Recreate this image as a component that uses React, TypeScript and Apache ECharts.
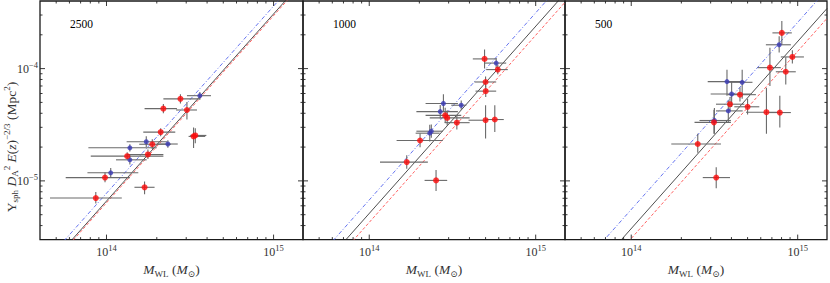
import React, { useEffect, useRef } from 'react';
import * as echarts from 'echarts';

// Units: M in 1e14 M_sun, Y in 1e-5 Mpc^2
const X_MIN = 0.4;
const X_MAX = 15;
const Y_MIN = 0.3;
const Y_MAX = 40;

const panelLabels = ['2500', '1000', '500'];
const xMajorTicks = [1, 10];
const xMinorTicks = [0.5, 0.6, 0.7, 0.8, 0.9, 2, 3, 4, 5, 6, 7, 8, 9];
const yMajorTicks = [1, 10];
const yMinorTicks = [0.4, 0.5, 0.6, 0.7, 0.8, 0.9, 2, 3, 4, 5, 6, 7, 8, 9, 20, 30];
const xTickText: Record<string, string> = { '1': '14', '10': '15' };
const yTickText: Record<string, string> = { '1': '−5', '10': '−4' };

// [M, Y, Mlo, Mhi, Ylo, Yhi]
const red2500 = [
  [2.77, 5.38, 2.19, 3.64, 4.9, 5.9],
  [2.19, 4.4, 1.69, 2.64, 4.0, 4.85],
  [3.03, 4.28, 2.61, 3.48, 3.52, 5.04],
  [2.11, 2.72, 1.66, 2.58, 2.5, 2.95],
  [3.32, 2.49, 3.1, 3.9, 1.96, 2.99],
  [3.4, 2.54, 3.17, 3.96, 2.16, 2.95],
  [1.88, 2.12, 1.57, 2.43, 1.92, 2.35],
  [1.33, 1.66, 0.805, 2.19, 1.55, 1.8],
  [1.77, 1.72, 1.32, 2.19, 1.57, 1.9],
  [0.98, 1.07, 0.57, 1.38, 0.97, 1.19],
  [1.69, 0.877, 1.47, 1.94, 0.76, 0.987],
  [0.863, 0.703, 0.459, 1.235, 0.629, 0.795],
];
const blue2500 = [
  [3.62, 5.74, 3.03, 4.22, 5.3, 6.2],
  [1.73, 2.23, 1.32, 2.3, 2.0, 2.5],
  [2.33, 2.13, 2.0, 2.67, 1.97, 2.3],
  [1.38, 1.97, 0.779, 2.0, 1.83, 2.12],
  [1.38, 1.54, 1.14, 1.74, 1.4, 1.7],
  [1.06, 1.18, 0.769, 1.55, 1.07, 1.3],
];
const red1000 = [
  [4.93, 12.2, 4.19, 5.79, 10.0, 14.8],
  [5.92, 9.8, 5.04, 6.8, 8.9, 10.8],
  [5.0, 7.6, 4.29, 5.79, 6.8, 8.5],
  [5.01, 6.3, 4.35, 5.79, 5.6, 7.1],
  [2.86, 3.83, 2.18, 3.57, 3.28, 4.48],
  [2.94, 3.64, 2.31, 4.01, 3.11, 4.26],
  [3.36, 3.3, 2.84, 4.01, 2.87, 3.79],
  [5.0, 3.47, 3.95, 5.14, 2.38, 4.72],
  [5.68, 3.52, 5.04, 6.43, 2.73, 4.72],
  [2.02, 2.29, 1.46, 2.77, 1.99, 2.64],
  [1.68, 1.47, 1.16, 2.25, 1.28, 1.69],
  [2.52, 1.01, 2.15, 2.94, 0.811, 1.25],
];
const blue1000 = [
  [5.79, 11.2, 4.93, 6.65, 10.1, 12.4],
  [2.79, 4.89, 2.18, 3.41, 4.1, 5.9],
  [3.57, 4.72, 3.11, 3.83, 4.3, 5.2],
  [2.67, 4.14, 1.92, 3.41, 3.6, 4.75],
  [2.36, 2.77, 1.92, 2.77, 2.42, 3.18],
  [2.31, 2.66, 1.9, 2.65, 2.24, 3.17],
];
const red500 = [
  [8.03, 20.8, 7.05, 9.22, 16.3, 26.6],
  [9.29, 12.7, 7.92, 10.9, 11.1, 14.6],
  [6.81, 10.2, 5.74, 7.92, 6.99, 15.3],
  [8.48, 9.37, 7.39, 9.74, 7.23, 12.6],
  [4.5, 5.86, 3.79, 5.61, 5.1, 6.8],
  [3.92, 4.82, 3.23, 4.78, 4.2, 5.6],
  [5.0, 4.57, 4.16, 5.88, 3.9, 5.4],
  [6.49, 4.09, 4.89, 7.74, 2.63, 6.76],
  [7.81, 4.06, 6.74, 9.1, 2.99, 5.74],
  [3.14, 3.32, 2.4, 3.97, 2.63, 4.29],
  [2.51, 2.13, 1.74, 3.46, 1.78, 2.63],
  [3.24, 1.07, 2.69, 3.92, 0.86, 1.32],
];
const blue500 = [
  [7.74, 16.3, 6.44, 9.1, 13.9, 19.4],
  [3.76, 7.66, 2.88, 4.78, 5.74, 9.75],
  [4.64, 7.55, 3.79, 5.35, 5.4, 9.75],
  [4.01, 5.94, 3.0, 5.26, 4.54, 7.7],
  [3.83, 4.2, 3.23, 4.67, 3.32, 5.21],
  [3.16, 3.45, 2.57, 3.97, 2.63, 4.46],
];

// Self-similar fits Y = A * M^slope (A = Y at M = 1e14)
const fitSlope = 5 / 3;
const fitBlack = [0.661, 0.513, 0.376];
const fitBlue = [0.776, 0.676, 0.556];
const fitRed = [0.638, 0.427, 0.307];

const FONT = '"Liberation Serif", "DejaVu Serif", serif';
const GRID_LEFT = [40, 303, 565];
const GRID_WIDTH = [263, 262, 263];
const GRID_TOP = 1;
const GRID_HEIGHT = 250;

const near = (v: number, t: number) => Math.abs(Math.log10(v) - Math.log10(t)) < 1e-6;

export default function App() {
  const ref = useRef<HTMLDivElement>(null);
  useEffect(() => {
    const chart = echarts.init(ref.current!, null, { renderer: 'svg' });
    const panels = [
      { red: red2500, blue: blue2500 },
      { red: red1000, blue: blue1000 },
      { red: red500, blue: blue500 },
    ];
    const grids: any[] = [];
    const xAxes: any[] = [];
    const yAxes: any[] = [];
    const series: any[] = [];
    const graphics: any[] = [];

    const tickData: any[] = [];
    xMinorTicks.forEach((v) => tickData.push([v, Y_MIN, 0]));
    xMajorTicks.forEach((v) => tickData.push([v, Y_MIN, 1]));
    yMinorTicks.forEach((v) => tickData.push([X_MIN, v, 2]));
    yMajorTicks.forEach((v) => tickData.push([X_MIN, v, 3]));

    const mk = (size: number, subSize: number, lh: number) => ({
      r: { fontFamily: FONT, fontSize: size, lineHeight: lh, color: '#333' },
      i: { fontFamily: FONT, fontSize: size, lineHeight: lh, fontStyle: 'italic', color: '#333' },
      sub: { fontFamily: FONT, fontSize: subSize, lineHeight: subSize + 1, verticalAlign: 'bottom', color: '#333' },
      sup: { fontFamily: FONT, fontSize: subSize, lineHeight: subSize + 1, verticalAlign: 'top', color: '#333' },
    });
    const tickRich = {
      b: { fontFamily: FONT, fontSize: 12, lineHeight: 16, color: '#333' },
      s: { fontFamily: FONT, fontSize: 8.5, lineHeight: 9, verticalAlign: 'top', color: '#333' },
    };

    panels.forEach((p, i) => {
      grids.push({
        left: GRID_LEFT[i],
        top: GRID_TOP,
        width: GRID_WIDTH[i],
        height: GRID_HEIGHT,
        show: true,
        borderColor: '#1a1a1a',
        borderWidth: 1.3,
        backgroundColor: 'transparent',
      });
      xAxes.push({
        type: 'log',
        logBase: 10,
        gridIndex: i,
        min: X_MIN,
        max: X_MAX,
        axisLine: { show: false },
        axisTick: { show: false },
        splitLine: { show: false },
        axisLabel: {
          margin: 4,
          fontFamily: FONT,
          fontSize: 12,
          color: '#333',
          formatter: (v: number) => {
            for (const k of xMajorTicks) if (near(v, k)) return '{b|10}{s|' + xTickText[String(k)] + '}';
            return '';
          },
          rich: tickRich,
        },
        name: '{i|M}{sub|WL} {r|(}{i|M}{sub|⊙}{r|)}',
        nameLocation: 'middle',
        nameGap: 21,
        nameTextStyle: { fontFamily: FONT, fontSize: 13.5, color: '#333', rich: mk(13.5, 9, 17) },
      });
      yAxes.push({
        type: 'log',
        logBase: 10,
        gridIndex: i,
        min: Y_MIN,
        max: Y_MAX,
        axisLine: { show: false },
        axisTick: { show: false },
        splitLine: { show: false },
        axisLabel: {
          show: i === 0,
          margin: 2,
          fontFamily: FONT,
          fontSize: 12,
          color: '#333',
          formatter: (v: number) => {
            for (const k of yMajorTicks) if (near(v, k)) return '{b|10}{s|' + yTickText[String(k)] + '}';
            return '';
          },
          rich: tickRich,
        },
      });

      // ticks on all four sides
      series.push({
        type: 'custom',
        xAxisIndex: i,
        yAxisIndex: i,
        silent: true,
        z: 5,
        data: tickData,
        renderItem: (_params: any, api: any) => {
          const code = api.value(2);
          const major = code % 2 === 1;
          const len = major ? 5 : 2.5;
          const st = { stroke: '#222', lineWidth: 0.9 };
          if (code < 2) {
            const b = api.coord([api.value(0), Y_MIN]);
            const t = api.coord([api.value(0), Y_MAX]);
            return {
              type: 'group',
              children: [
                { type: 'line', shape: { x1: b[0], y1: b[1], x2: b[0], y2: b[1] - len }, style: st },
                { type: 'line', shape: { x1: t[0], y1: t[1], x2: t[0], y2: t[1] + len }, style: st },
              ],
            };
          }
          const l = api.coord([X_MIN, api.value(1)]);
          const r = api.coord([X_MAX, api.value(1)]);
          return {
            type: 'group',
            children: [
              { type: 'line', shape: { x1: l[0], y1: l[1], x2: l[0] + len, y2: l[1] }, style: st },
              { type: 'line', shape: { x1: r[0], y1: r[1], x2: r[0] - len, y2: r[1] }, style: st },
            ],
          };
        },
      });

      // fit lines
      const fitLine = (A: number, color: string, type: any, width: number) => ({
        type: 'line',
        xAxisIndex: i,
        yAxisIndex: i,
        silent: true,
        showSymbol: false,
        symbol: 'none',
        clip: true,
        z: 3,
        lineStyle: { color, type, width },
        data: [
          [X_MIN, A * Math.pow(X_MIN, fitSlope)],
          [X_MAX, A * Math.pow(X_MAX, fitSlope)],
        ],
      });
      series.push(fitLine(fitBlue[i], '#5565ee', [4, 2, 1, 2], 0.9));
      series.push(fitLine(fitRed[i], '#ff5050', [3, 2], 0.9));
      series.push(fitLine(fitBlack[i], '#222', 'solid', 0.8));

      // error bars
      const errData = [...p.red, ...p.blue];
      series.push({
        type: 'custom',
        xAxisIndex: i,
        yAxisIndex: i,
        silent: true,
        z: 4,
        data: errData,
        renderItem: (_params: any, api: any) => {
          const x = api.value(0);
          const y = api.value(1);
          const a = api.coord([api.value(2), y]);
          const b = api.coord([api.value(3), y]);
          const c = api.coord([x, api.value(4)]);
          const d = api.coord([x, api.value(5)]);
          const st = { stroke: '#6a6a6a', lineWidth: 1.1 };
          return {
            type: 'group',
            children: [
              { type: 'line', shape: { x1: a[0], y1: a[1], x2: b[0], y2: b[1] }, style: st },
              { type: 'line', shape: { x1: c[0], y1: c[1], x2: d[0], y2: d[1] }, style: st },
            ],
          };
        },
      });

      series.push({
        type: 'scatter',
        xAxisIndex: i,
        yAxisIndex: i,
        symbol: 'circle',
        symbolSize: 5,
        z: 6,
        itemStyle: { color: '#3a3ab8' },
        data: p.blue.map((r) => [r[0], r[1]]),
      });
      series.push({
        type: 'scatter',
        xAxisIndex: i,
        yAxisIndex: i,
        symbol: 'circle',
        symbolSize: 6,
        z: 7,
        itemStyle: { color: '#ff0a0a' },
        data: p.red.map((r) => [r[0], r[1]]),
      });

      graphics.push({
        type: 'text',
        x: GRID_LEFT[i] + 30,
        y: 18,
        style: {
          text: panelLabels[i],
          fontFamily: FONT,
          fontSize: 11.5,
          fill: '#000',
          verticalAlign: 'top',
        },
      });
    });

    graphics.push({
      type: 'text',
      x: 11,
      y: 147,
      rotation: Math.PI / 2,
      style: {
        text: '{r|Y}{sub|sph} {i|D}{sub|A}{sup|2} {i|E}{r|(}{i|z}{r|)}{sup|−2/3} {r|(Mpc}{sup|2}{r|)}',
        fontFamily: FONT,
        fontSize: 13.5,
        fill: '#333',
        align: 'center',
        verticalAlign: 'middle',
        rich: mk(13.5, 9, 17),
      },
    });

    chart.setOption({
      animation: false,
      backgroundColor: '#fff',
      grid: grids,
      xAxis: xAxes,
      yAxis: yAxes,
      series,
      graphic: graphics,
    });
    return () => chart.dispose();
  }, []);
  return <div ref={ref} style={{ position: 'fixed', left: 0, top: 0, width: 830, height: 283 }} />;
}
